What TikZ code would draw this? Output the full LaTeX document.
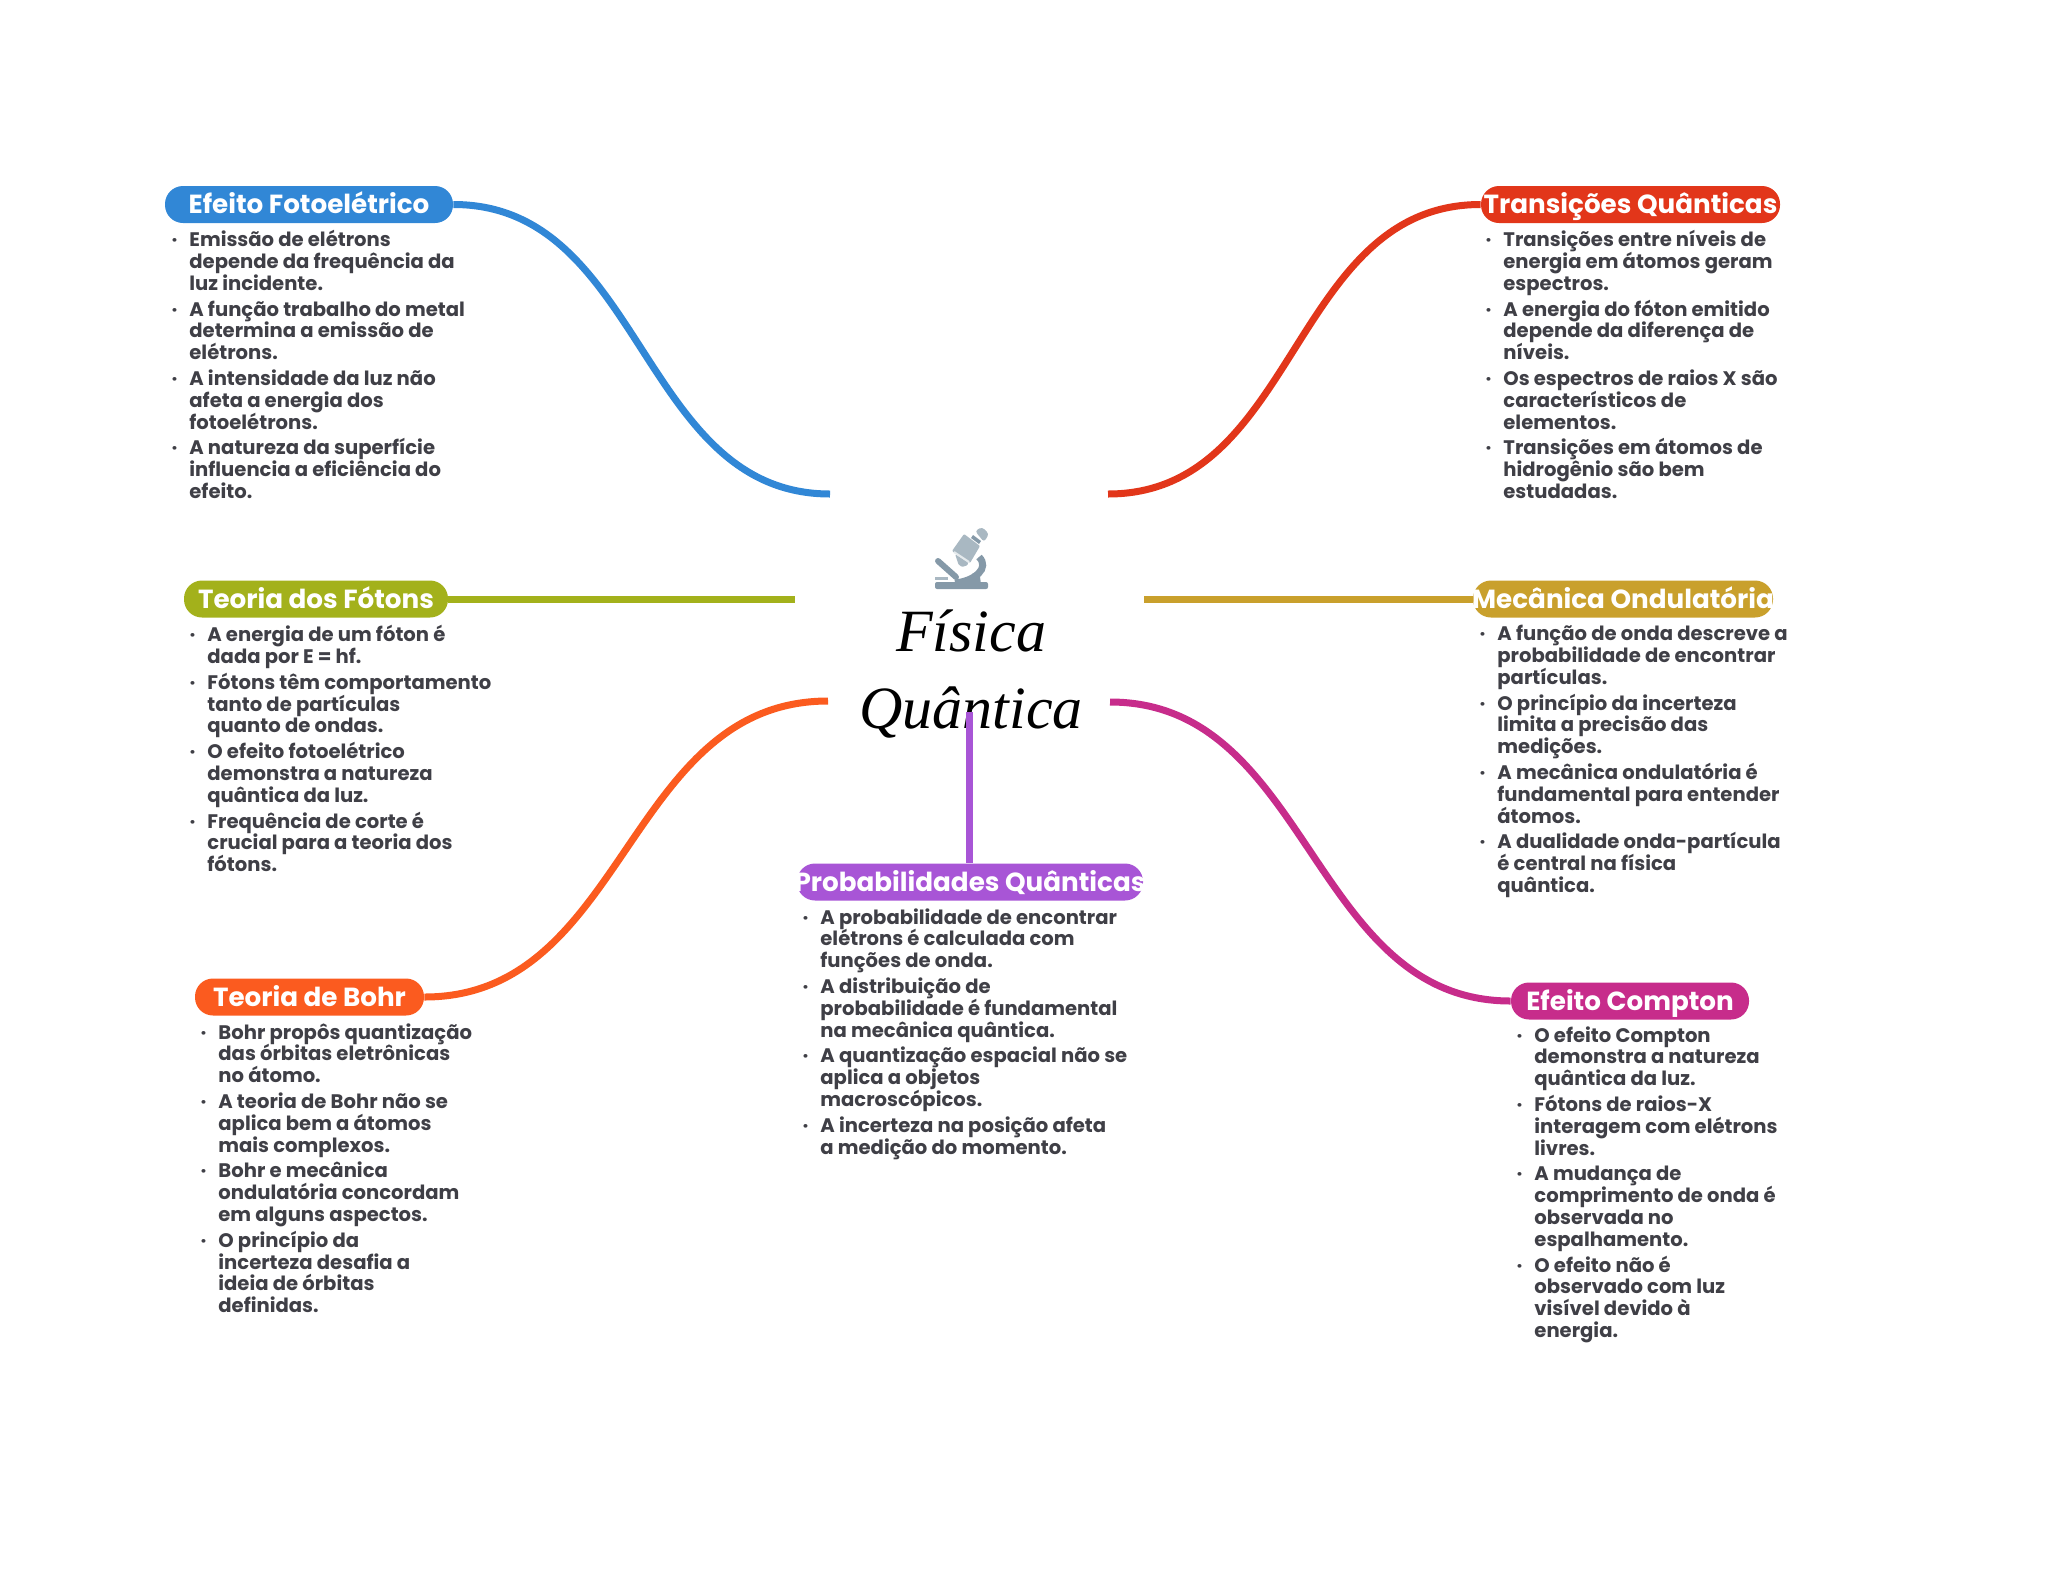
\documentclass[tikz,border=0pt]{standalone}
\usepackage{fontspec}
\setmainfont{Poppins}
\newfontfamily\titlefont{Liberation Serif}
\usetikzlibrary{positioning}

\definecolor{bluewire}{HTML}{3187D6}
\definecolor{redwire}{HTML}{E2361A}
\definecolor{olivewire}{HTML}{A3B11B}
\definecolor{goldwire}{HTML}{C9A02C}
\definecolor{orangewire}{HTML}{FB5B1F}
\definecolor{pinkwire}{HTML}{C72C8B}
\definecolor{purplewire}{HTML}{A855D6}
\definecolor{bodytext}{HTML}{3F3F46}
\definecolor{scopelight}{HTML}{A9B8C2}
\definecolor{scopedark}{HTML}{8599A8}

\newcommand{\bul}{\llap{·\hspace{6pt}}}

\begin{document}
\begin{tikzpicture}[
x=0.5pt, y=-0.5pt,
pillnode/.style={rounded corners=9pt, minimum height=18.5pt, inner xsep=-2pt, inner ysep=0pt, text height=11pt, text depth=1.6pt, text=white, font=\fontsize{13.1}{15}\selectfont\bfseries},
listnode/.style={anchor=north west, inner sep=0pt, align=left, text=bodytext, font=\fontsize{9.8}{10.9}\selectfont\bfseries},
wire/.style={line width=3.5pt}
]
\useasboundingbox (0,0) rectangle (2048,1569);

% centre
\fill[scopedark, rounded corners=1pt] (935,582) rectangle (988,589);
\fill[scopelight] (935,577) rectangle (948,580);
\draw[scopedark, line width=3pt, line cap=round] (938,561) -- (956,577);
\draw[scopedark, line width=3.5pt] (955,583) .. controls (975,581) and (990,568) .. (979,557);
\fill[scopedark] (972,574) -- (979,570) -- (981,584) -- (972,584) -- cycle;
\fill[scopelight, rounded corners=0.5pt] (964,534) -- (980,546) -- (970,563) -- (952,551) -- cycle;
\fill[scopelight, rounded corners=1pt] (955,554) -- (969,563) -- (965,567) -- (959,566) -- cycle;
\draw[white!70!scopelight, line width=1pt] (954,552) -- (969,562);
\fill[scopedark] (973,535) -- (981,541) -- (979,544) -- (971,538) -- cycle;
\fill[scopelight, rounded corners=1.5pt] (975,531) -- (982,527) -- (989,534) -- (984,542) -- cycle;

\node[align=center, font=\fontsize{30}{38.5}\titlefont\itshape] (title) at (971,674) {Física\\Quântica};

\coordinate (end_blue) at (830,494);
\coordinate (end_red) at (1108,494);
\coordinate (end_olive) at (795,599);
\coordinate (end_gold) at (1144,599);
\coordinate (end_orange) at (828,701);
\coordinate (end_pink) at (1110,702);
\coordinate (end_purple) at (969,712);

% branches
\node[pillnode, fill=bluewire, minimum width=144pt] (foto) at (309,204.5) {Efeito Fotoelétrico};
\node[pillnode, fill=redwire, minimum width=149.5pt] (trans) at (1630.5,204.5) {Transições Quânticas};
\node[pillnode, fill=olivewire, minimum width=132pt] (fotons) at (316,599) {Teoria dos Fótons};
\node[pillnode, fill=goldwire, minimum width=150pt] (meca) at (1623,599) {Mecânica Ondulatória};
\node[pillnode, fill=orangewire, minimum width=114.5pt] (bohr) at (309.5,997) {Teoria de Bohr};
\node[pillnode, fill=purplewire, minimum width=173pt] (prob) at (970,882) {Probabilidades Quânticas};
\node[pillnode, fill=pinkwire, minimum width=119pt] (compton) at (1630,1001) {Efeito Compton};

\draw[wire, bluewire] (foto.east) .. controls +(190,0) and +(-190,0) .. (end_blue);
\draw[wire, redwire] (trans.west) .. controls +(-190,0) and +(190,0) .. (end_red);
\draw[wire, olivewire] (fotons.east) -- (end_olive);
\draw[wire, goldwire] (meca.west) -- (end_gold);
\draw[wire, orangewire] (bohr.east) .. controls +(202,0) and +(-202,0) .. (end_orange);
\draw[wire, pinkwire] (compton.west) .. controls +(-200,0) and +(200,0) .. (end_pink);
\draw[wire, purplewire] (end_purple) -- (prob.north -| end_purple);

% lists
\node[listnode] (foto_list) at (189,230) {\bul Emissão de elétrons\\depende da frequência da\\luz incidente.\\[2pt]
\bul A função trabalho do metal\\determina a emissão de\\elétrons.\\[2pt]
\bul A intensidade da luz não\\afeta a energia dos\\fotoelétrons.\\[2pt]
\bul A natureza da superfície\\influencia a eficiência do\\efeito.};

\node[listnode] (trans_list) at (1503,230) {\bul Transições entre níveis de\\energia em átomos geram\\espectros.\\[2pt]
\bul A energia do fóton emitido\\depende da diferença de\\níveis.\\[2pt]
\bul Os espectros de raios X são\\característicos de\\elementos.\\[2pt]
\bul Transições em átomos de\\hidrogênio são bem\\estudadas.};

\node[listnode] (fotons_list) at (207,625) {\bul A energia de um fóton é\\dada por E = hf.\\[2pt]
\bul Fótons têm comportamento\\tanto de partículas\\quanto de ondas.\\[2pt]
\bul O efeito fotoelétrico\\demonstra a natureza\\quântica da luz.\\[2pt]
\bul Frequência de corte é\\crucial para a teoria dos\\fótons.};

\node[listnode] (meca_list) at (1497,625) {\bul A função de onda descreve a\\probabilidade de encontrar\\partículas.\\[2pt]
\bul O princípio da incerteza\\limita a precisão das\\medições.\\[2pt]
\bul A mecânica ondulatória é\\fundamental para entender\\átomos.\\[2pt]
\bul A dualidade onda-partícula\\é central na física\\quântica.};

\node[listnode] (bohr_list) at (218,1023) {\bul Bohr propôs quantização\\das órbitas eletrônicas\\no átomo.\\[2pt]
\bul A teoria de Bohr não se\\aplica bem a átomos\\mais complexos.\\[2pt]
\bul Bohr e mecânica\\ondulatória concordam\\em alguns aspectos.\\[2pt]
\bul O princípio da\\incerteza desafia a\\ideia de órbitas\\definidas.};

\node[listnode] (prob_list) at (820,908) {\bul A probabilidade de encontrar\\elétrons é calculada com\\funções de onda.\\[2pt]
\bul A distribuição de\\probabilidade é fundamental\\na mecânica quântica.\\[2pt]
\bul A quantização espacial não se\\aplica a objetos\\macroscópicos.\\[2pt]
\bul A incerteza na posição afeta\\a medição do momento.};

\node[listnode] (compton_list) at (1534,1026) {\bul O efeito Compton\\demonstra a natureza\\quântica da luz.\\[2pt]
\bul Fótons de raios-X\\interagem com elétrons\\livres.\\[2pt]
\bul A mudança de\\comprimento de onda é\\observada no\\espalhamento.\\[2pt]
\bul O efeito não é\\observado com luz\\visível devido à\\energia.};

\end{tikzpicture}
\end{document}
